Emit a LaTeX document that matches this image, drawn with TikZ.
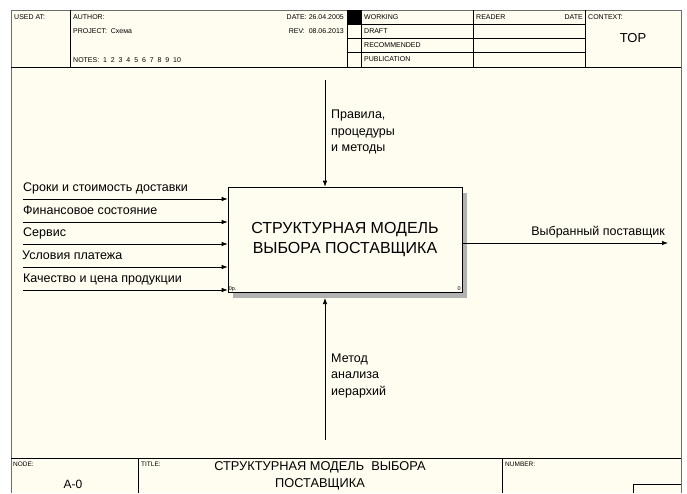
\documentclass[tikz,border=0pt]{standalone}
\usepackage{fontspec}
\setmainfont{Liberation Sans}
\usetikzlibrary{arrows.meta,patterns}
\definecolor{cream}{RGB}{255,253,240}
\definecolor{framegray}{RGB}{110,110,110}
\tikzset{
  tiny/.style={font=\fontsize{7}{8}\selectfont, inner sep=0pt, anchor=base west},
  tinyr/.style={tiny, anchor=base east},
  lbl/.style={font=\fontsize{12.5}{14}\selectfont, inner sep=0pt, anchor=base west},
  stack/.style={lbl, align=left, anchor=north west, font=\fontsize{12.5}{16.5}\selectfont},
  arr/.style={-{Latex[length=6pt,width=4.5pt]}, line width=0.7pt},
  grid/.style={line width=0.6pt},
}
\begin{document}
\begin{tikzpicture}[x=1pt,y=-1pt]
\useasboundingbox (0,0) rectangle (687,493);
\fill[white] (0,0) rectangle (687,493);
\fill[cream] (11,10) rectangle (681,493);
\draw[framegray, line width=0.9pt] (11,493) -- (11,10) -- (681,10) -- (681,493);
% header
\draw[grid] (11,67) -- (681,67);
\draw[grid] (70,10) -- (70,67);
\draw[grid] (347,10) -- (347,67);
\draw[grid] (361,10) -- (361,67);
\draw[grid] (473,10) -- (473,67);
\draw[grid] (585,10) -- (585,67);
\draw[grid] (347,24.25) -- (585,24.25);
\draw[grid] (347,38.5) -- (585,38.5);
\draw[grid] (347,52.75) -- (585,52.75);
\fill (347,10) rectangle (361,24.25);
\node[tiny] (usedat) at (14,19) {USED AT:};
\node[tiny] (author) at (73,19) {AUTHOR:};
\node[tiny] (project) at (73,33) {PROJECT:\ \ Схема};
\node[tiny] (notes) at (73,62) {NOTES:\ \ 1\ \ 2\ \ 3\ \ 4\ \ 5\ \ 6\ \ 7\ \ 8\ \ 9\ \ 10};
\node[tinyr] (date) at (344,19) {DATE: 26.04.2005};
\node[tinyr] (rev) at (344,33) {REV:\ \ 08.06.2013};
\node[tiny] (working) at (364,19) {WORKING};
\node[tiny] (draft) at (364,33) {DRAFT};
\node[tiny] (recommended) at (364,47.3) {RECOMMENDED};
\node[tiny] (publication) at (364,61.5) {PUBLICATION};
\node[tiny] (reader) at (476,19) {READER};
\node[tinyr] (rdate) at (583,19) {DATE};
\node[tiny] (context) at (588,19) {CONTEXT:};
\node[font=\fontsize{13}{14}\selectfont, inner sep=0pt] (top) at (633,38) {TOP};
% footer
\draw[grid] (11,458) -- (681,458);
\draw[grid] (138,458) -- (138,493);
\draw[grid] (502,458) -- (502,493);
\draw[grid] (633,493) -- (633,484) -- (681,484);
\node[tiny, font=\fontsize{6.5}{7}\selectfont] (nodelbl) at (13,466) {NODE:};
\node[tiny, font=\fontsize{6.5}{7}\selectfont] (titlelbl) at (141,466) {TITLE:};
\node[tiny, font=\fontsize{6.5}{7}\selectfont] (numberlbl) at (505,466) {NUMBER:};
\node[font=\fontsize{12}{13}\selectfont, inner sep=0pt] (a0) at (73,484) {A-0};
\node[font=\fontsize{12.8}{17}\selectfont, inner sep=0pt, align=center] (title) at (320,475.5) {СТРУКТУРНАЯ МОДЕЛЬ\ \ ВЫБОРА\\ПОСТАВЩИКА};
% main box
\fill[gray!60] (233,193) rectangle (467,298);
\node[draw, fill=cream, line width=0.7pt, minimum width=234pt, minimum height=105pt, inner sep=0pt,
      font=\fontsize{16}{20}\selectfont, align=center] (box) at (345,239.5)
      {СТРУКТУРНАЯ МОДЕЛЬ\\ВЫБОРА ПОСТАВЩИКА};
\node[font=\fontsize{5.5}{6}\selectfont, inner sep=1pt, anchor=south west] (c1) at (box.south west) {0p.};
\node[font=\fontsize{5.5}{6}\selectfont, inner sep=1.5pt, anchor=south east] (c2) at (box.south east) {0};
% inputs
\coordinate (i1) at (23,199);
\coordinate (i2) at (23,222);
\coordinate (i3) at (23,244);
\coordinate (i4) at (23,267);
\coordinate (i5) at (23,290);
\draw[arr] (i1) -- (i1 -| box.west);
\draw[arr] (i2) -- (i2 -| box.west);
\draw[arr] (i3) -- (i3 -| box.west);
\draw[arr] (i4) -- (i4 -| box.west);
\draw[arr] (i5) -- (i5 -| box.west);
\node[lbl] (l1) at (23,191.5) {Сроки и стоимость доставки};
\node[lbl] (l2) at (23,214.5) {Финансовое состояние};
\node[lbl] (l3) at (23,236.5) {Сервис};
\node[lbl] (l4) at (22,259.5) {Условия платежа};
\node[lbl] (l5) at (23,282.5) {Качество и цена продукции};
% output
\coordinate (o1) at (668,243);
\draw[arr] (o1 -| box.east) -- (o1);
\node[lbl, anchor=base east] (lo) at (665,235.5) {Выбранный поставщик};
% control
\coordinate (ctop) at (325,80);
\draw[arr] (ctop) -- (ctop |- box.north);
\node[stack] (lc) at (331,110) {Правила,\\процедуры\\и методы};
% mechanism
\coordinate (mbot) at (325,440);
\coordinate (mtip) at (325,298);
\draw[arr] (mbot) -- (mtip);
\node[stack] (lm) at (331,353.5) {Метод\\анализа\\иерархий};
\end{tikzpicture}
\end{document}
